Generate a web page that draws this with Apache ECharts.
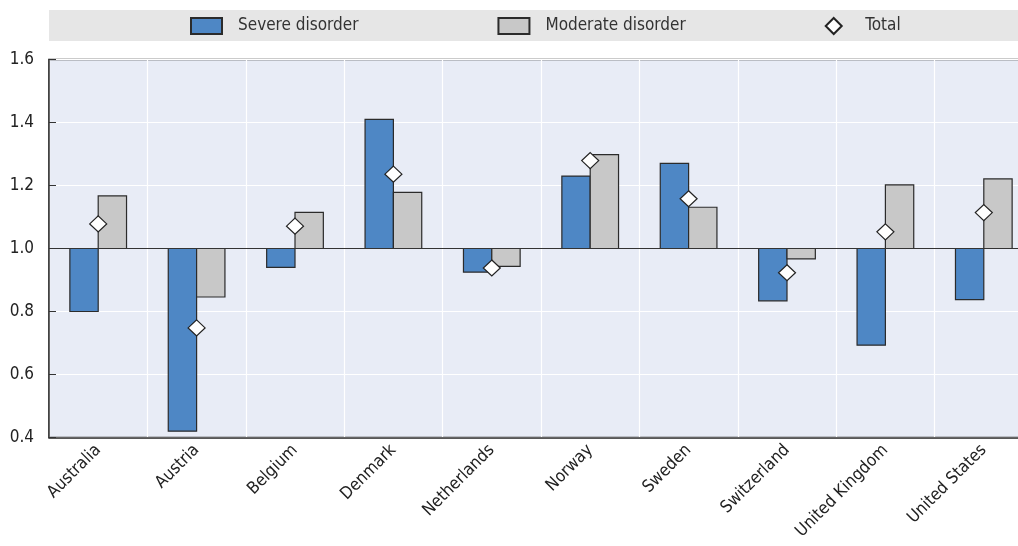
<!DOCTYPE html>
<html><head><meta charset="utf-8">
<script src="https://cdn.jsdelivr.net/npm/echarts@6/dist/echarts.min.js"></script>
<style>html,body{margin:0;padding:0;background:#fff;overflow:hidden;width:1018px;height:546px}#c{width:1034px;height:546px}</style>
</head><body><div id="c"></div>
<script>
const countries = ['Australia','Austria','Belgium','Denmark','Netherlands','Norway','Sweden','Switzerland','United Kingdom','United States'];
const severe   = [0.80, 0.42, 0.94, 1.41, 0.925, 1.23, 1.27, 0.834, 0.693, 0.838];
const moderate = [1.167, 0.846, 1.115, 1.178, 0.943, 1.298, 1.131, 0.967, 1.202, 1.221];
const total    = [1.078, 0.748, 1.071, 1.236, 0.938, 1.279, 1.158, 0.923, 1.053, 1.114];
const yTicks = [0.4, 0.6, 0.8, 1.0, 1.2, 1.4, 1.6];
const baseline = 1.0;

const FONT = "'DejaVu Sans Condensed','Liberation Sans Narrow',sans-serif";
const chart = echarts.init(document.getElementById('c'));

function barRender(side){
  return function(params, api){
    const i = api.value(0), v = api.value(1);
    const band = api.size([1,0])[0];
    const bw = band*0.288;
    const c = api.coord([i, baseline]);
    const e = api.coord([i, v]);
    const x = side < 0 ? c[0]-bw : c[0];
    const y = Math.min(c[1], e[1]);
    const h = Math.abs(c[1]-e[1]);
    return {type:'rect', shape:{x:x, y:y, width:bw, height:h}, style:api.style()};
  };
}

chart.setOption({
  animation:false,
  textStyle:{fontFamily:FONT},
  graphic:[{type:'rect', z:-1, shape:{x:49, y:10, width:969, height:31}, style:{fill:'#e6e6e6'}}],
  legend:{
    left:190, top:17, padding:0, itemGap:139, itemWidth:31, itemHeight:16,
    textStyle:{fontSize:17, color:'#333', fontFamily:FONT, padding:[6,0,0,11]},
    data:[
      {name:'Severe disorder', icon:'rect'},
      {name:'Moderate disorder', icon:'rect'},
      {name:'Total', icon:'path://M8,0 L16,8 L8,16 L0,8 Z'}
    ]
  },
  grid:{left:49, top:59.5, right:1, height:378, show:true, backgroundColor:'#e8ecf6', borderColor:'#333', borderWidth:1.5},
  xAxis:{
    type:'category', data:countries, boundaryGap:true,
    axisLine:{lineStyle:{color:'#333', width:1.5}},
    axisTick:{inside:true, length:6, lineStyle:{color:'#333'}},
    splitLine:{show:true, lineStyle:{color:'#fff', width:1.2}},
    axisLabel:{rotate:45, fontSize:17, color:'#222', margin:10, interval:0, fontFamily:FONT}
  },
  yAxis:{
    type:'value', min:0.4, max:1.6, interval:0.2,
    axisLine:{show:true, lineStyle:{color:'#333', width:1.5}},
    axisTick:{show:true, inside:true, length:7, lineStyle:{color:'#333'}},
    splitLine:{lineStyle:{color:'#fff', width:1.2}},
    axisLabel:{fontSize:17, color:'#222', margin:15, fontFamily:FONT, formatter:v=>v.toFixed(1)}
  },
  series:[
    {name:'Severe disorder', type:'custom', renderItem:barRender(-1),
     itemStyle:{color:'#4e87c5', borderColor:'#2b2b2b', borderWidth:1.2},
     encode:{x:0,y:1}, data:severe.map((v,i)=>[i,v]), z:2,
     markLine:{silent:true, symbol:'none', label:{show:false}, lineStyle:{color:'#333', width:1.2, type:'solid'}, data:[{yAxis:baseline}], z:3}},
    {name:'Moderate disorder', type:'custom', renderItem:barRender(1),
     itemStyle:{color:'#c8c8c8', borderColor:'#2b2b2b', borderWidth:1.2},
     encode:{x:0,y:1}, data:moderate.map((v,i)=>[i,v]), z:2},
    {name:'Total', type:'scatter', symbol:'diamond', symbolSize:[17,16],
     itemStyle:{color:'#fff', borderColor:'#222', borderWidth:1.2, opacity:1},
     data:total.map((v,i)=>[i,v]), z:5}
  ]
});
</script></body></html>
